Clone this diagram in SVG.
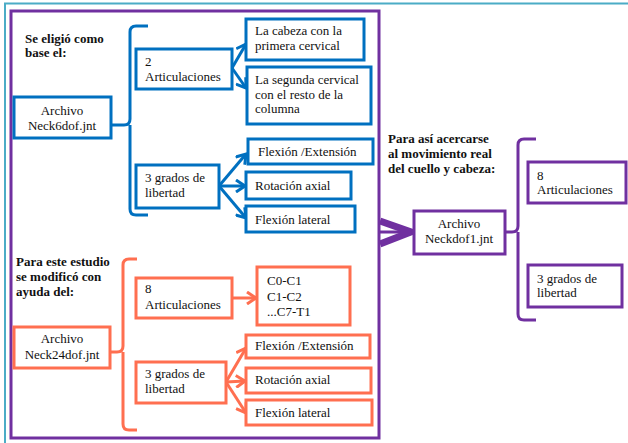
<svg xmlns="http://www.w3.org/2000/svg" width="628" height="443" viewBox="0 0 628 443">
<style>
text{font-family:"Liberation Serif","Times New Roman",serif;font-size:13px;fill:#111}
.b{font-weight:bold}
.bl{fill:#fff;stroke:#0070C0;stroke-width:3}
.or{fill:#fff;stroke:#FF6F50;stroke-width:3}
.pu{fill:#fff;stroke:#7030A0;stroke-width:3}
.lb{fill:none;stroke:#0070C0;stroke-width:3}
.lo{fill:none;stroke:#FF6F50;stroke-width:3}
.lp{fill:none;stroke:#7030A0;stroke-width:3}
</style>
<defs>
<marker id="ab" markerUnits="userSpaceOnUse" markerWidth="12" markerHeight="14" refX="10" refY="7" orient="auto"><path d="M1,1 L10,7 L1,13" fill="none" stroke="#0070C0" stroke-width="3"/></marker>
<marker id="ao" markerUnits="userSpaceOnUse" markerWidth="12" markerHeight="14" refX="10" refY="7" orient="auto"><path d="M1,1 L10,7 L1,13" fill="none" stroke="#FF6F50" stroke-width="3"/></marker>
</defs>
<rect width="628" height="443" fill="#fff"/>
<g id="frame">
<path d="M5,443 V3.5 H628" fill="none" stroke="#4BACC6" stroke-width="2"/>
<rect x="11" y="11" width="368" height="427" fill="none" stroke="#7030A0" stroke-width="3"/>
</g>
<g id="connectors">
<path class="lb" d="M112,125 H124 Q130,125 130,119 V32 Q130,26 136,26 H148 M130,125 V209 Q130,215 136,215 H148"/>
<path class="lb" d="M232,68 L246,44" marker-end="url(#ab)"/>
<path class="lb" d="M232,68 L246,88" marker-end="url(#ab)"/>
<path class="lb" d="M219,186 L246,154" marker-end="url(#ab)"/>
<path class="lb" d="M219,186 L245,186" marker-end="url(#ab)"/>
<path class="lb" d="M219,186 L246,218" marker-end="url(#ab)"/>
<path class="lo" d="M110,352 H117 Q123,352 123,346 V265 Q123,259 129,259 H137 M123,352 V424 Q123,430 129,430 H137"/>
<path class="lo" d="M232,298 L256,298" marker-end="url(#ao)"/>
<path class="lo" d="M226,382 L246,348" marker-end="url(#ao)"/>
<path class="lo" d="M226,382 L245,381" marker-end="url(#ao)"/>
<path class="lo" d="M226,382 L246,413" marker-end="url(#ao)"/>
<path class="lp" d="M505,232 H512 Q518,232 518,226 V145 Q518,139 524,139 H536 M518,232 V314 Q518,320 524,320 H536"/>
<path d="M380,232 H410" stroke="#7030A0" stroke-width="3"/>
<path d="M380,221 L411,232 L380,244" fill="none" stroke="#7030A0" stroke-width="7" stroke-linejoin="miter"/>
</g>
<g id="label-base">
<text class="b" x="25" y="43">Se eligió como</text>
<text class="b" x="25" y="57">base el:</text>
</g>
<g id="neck6dof">
<rect class="bl" x="14" y="97" width="97" height="41"/>
<text x="62" y="115" text-anchor="middle">Archivo</text>
<text x="62" y="130" text-anchor="middle">Neck6dof.jnt</text>
</g>
<g id="b-2art">
<rect class="bl" x="136" y="49" width="96" height="40"/>
<text x="145" y="66">2</text>
<text x="145" y="81">Articulaciones</text>
</g>
<g id="b-cabeza">
<rect class="bl" x="246" y="19" width="118" height="41"/>
<text x="255" y="35">La cabeza con la</text>
<text x="255" y="50">primera cervical</text>
</g>
<g id="b-segunda">
<rect class="bl" x="247" y="67" width="124" height="57"/>
<text x="255" y="84">La segunda cervical</text>
<text x="255" y="99">con el resto de la</text>
<text x="255" y="113">columna</text>
</g>
<g id="b-3grados">
<rect class="bl" x="136" y="165" width="83" height="43"/>
<text x="145" y="182">3 grados  de</text>
<text x="145" y="197">libertad</text>
</g>
<g id="b-flex">
<rect class="bl" x="248" y="139" width="125" height="25"/>
<text x="258" y="156">Flexión /Extensión</text>
</g>
<g id="b-rot">
<rect class="bl" x="246" y="172" width="105" height="27"/>
<text x="255" y="190">Rotación axial</text>
</g>
<g id="b-lat">
<rect class="bl" x="246" y="206" width="109" height="26"/>
<text x="255" y="224">Flexión lateral</text>
</g>
<g id="label-estudio">
<text class="b" x="16" y="266">Para  este estudio</text>
<text class="b" x="16" y="281">se modificó con</text>
<text class="b" x="16" y="296">ayuda del:</text>
</g>
<g id="neck24dof">
<rect class="or" x="14" y="327" width="96" height="41"/>
<text x="62" y="343" text-anchor="middle">Archivo</text>
<text x="62" y="359" text-anchor="middle">Neck24dof.jnt</text>
</g>
<g id="o-8art">
<rect class="or" x="136" y="278" width="96" height="40"/>
<text x="145" y="293">8</text>
<text x="145" y="309">Articulaciones</text>
</g>
<g id="o-cs">
<rect class="or" x="257" y="267" width="93" height="58"/>
<text x="267" y="285">C0-C1</text>
<text x="267" y="301">C1-C2</text>
<text x="267" y="316">...C7-T1</text>
</g>
<g id="o-3grados">
<rect class="or" x="136" y="362" width="90" height="41"/>
<text x="145" y="378">3 grados  de</text>
<text x="145" y="393">libertad</text>
</g>
<g id="o-flex">
<rect class="or" x="246" y="335" width="124" height="23"/>
<text x="255" y="350">Flexión  /Extensión</text>
</g>
<g id="o-rot">
<rect class="or" x="246" y="368" width="125" height="25"/>
<text x="255" y="384">Rotación axial</text>
</g>
<g id="o-lat">
<rect class="or" x="246" y="400" width="126" height="25"/>
<text x="255" y="417">Flexión lateral</text>
</g>
<g id="label-real">
<text class="b" x="388" y="143">Para  así acercarse</text>
<text class="b" x="388" y="158">al movimiento real</text>
<text class="b" x="388" y="173">del cuello y cabeza:</text>
</g>
<g id="neckdof1">
<rect class="pu" x="414" y="211" width="91" height="43"/>
<text x="459" y="228" text-anchor="middle">Archivo</text>
<text x="459" y="243" text-anchor="middle">Neckdof1.jnt</text>
</g>
<g id="p-8art">
<rect class="pu" x="528" y="162" width="98" height="41"/>
<text x="537" y="180">8</text>
<text x="537" y="194">Articulaciones</text>
</g>
<g id="p-3grados">
<rect class="pu" x="528" y="265" width="94" height="42"/>
<text x="537" y="283">3 grados  de</text>
<text x="537" y="297">libertad</text>
</g>
</svg>
